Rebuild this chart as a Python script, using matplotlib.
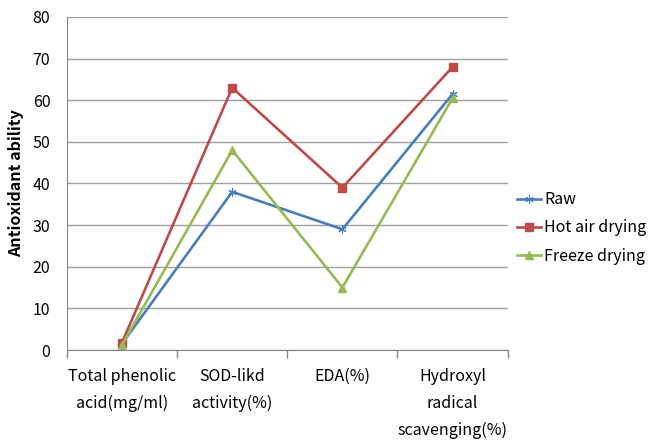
import numpy as np
import matplotlib
matplotlib.use('Agg')
import matplotlib.pyplot as plt

plt.rcParams['font.family'] = ['Noto Sans CJK KR', 'DejaVu Sans']

categories = ['Total phenolic\nacid(mg/ml)', 'SOD-likd\nactivity(%)', 'EDA(%)',
              'Hydroxyl\nradical\nscavenging(%)']
raw = [1.5, 38, 29, 61.5]
hot_air = [1.8, 63, 39, 68]
freeze = [1.2, 48, 15, 60.5]

fig = plt.figure(figsize=(6.5, 4.47), dpi=100)
ax = fig.add_axes([0.103, 0.217, 0.678, 0.745])

x = np.arange(len(categories))
ax.plot(x, raw, color='#4A7EBB', lw=1.9, marker=(6, 2, 0), ms=6, mew=0.8, label='Raw')
ax.plot(x, hot_air, color='#BE4B48', lw=1.9, marker='s', ms=5.5, label='Hot air drying')
ax.plot(x, freeze, color='#98B954', lw=1.9, marker='^', ms=5.5, label='Freeze drying')

ax.set_xlim(-0.5, len(categories) - 0.5)
ax.set_ylim(0, 80)
ax.set_yticks(range(0, 81, 10))
ax.yaxis.grid(True, color='#A0A0A0', lw=1)
ax.set_axisbelow(True)

ax.set_xticks(np.arange(-0.5, len(categories), 1.0))
ax.set_xticklabels([])
ax.set_xticks(x, minor=True)
ax.set_xticklabels(categories, minor=True, fontsize=11.5, linespacing=1.75, va='top')
ax.tick_params(axis='x', which='major', length=6, color='#868686', width=1, direction='out')
ax.tick_params(axis='x', which='minor', length=0, pad=13)
ax.tick_params(axis='y', length=0, labelsize=11.5, pad=12)

for s in ['top', 'right']:
    ax.spines[s].set_visible(False)
ax.spines['left'].set_color('#868686')
ax.spines['bottom'].set_color('#868686')

ax.set_ylabel('Antioxidant ability', fontsize=11.5, fontweight='bold', labelpad=6)

ax.legend(loc='center left', bbox_to_anchor=(0.795, 0.49), bbox_transform=fig.transFigure,
          frameon=False, fontsize=11.5, handlelength=1.5, handletextpad=0.2,
          labelspacing=0.7, borderaxespad=0, borderpad=0)

fig.savefig('out.png', dpi=100)
